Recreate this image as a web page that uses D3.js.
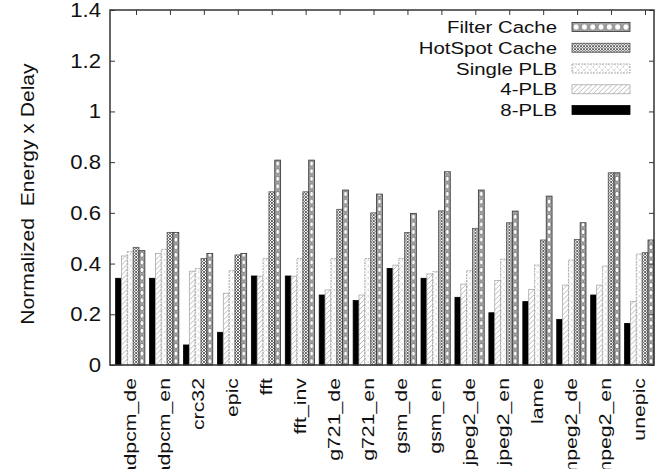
<!DOCTYPE html>
<html>
<head>
<meta charset="utf-8">
<script src="https://cdn.jsdelivr.net/npm/d3@7"></script>
<style>
body { margin: 0; background: #fff; }
svg text { font-family: "Liberation Sans", Arial, sans-serif; fill: #111; }
</style>
</head>
<body>
<svg id="chartSvg" width="667" height="469"></svg>
<script>
var benchmarks = ["adpcm_de", "adpcm_en", "crc32", "epic", "fft", "fft_inv", "g721_de", "g721_en",
    "gsm_de", "gsm_en", "jpeg2_de", "jpeg2_en", "lame", "mpeg2_de", "mpeg2_en", "unepic"];
var legendNames = ["Filter Cache", "HotSpot Cache", "Single PLB", "4-PLB", "8-PLB"];

var filterCache  = [0.451, 0.523, 0.44, 0.44, 0.808, 0.808, 0.69, 0.674, 0.598, 0.762, 0.69, 0.607, 0.666, 0.561, 0.758, 0.493];
var hotspotCache = [0.464, 0.523, 0.42, 0.434, 0.683, 0.683, 0.614, 0.60, 0.523, 0.608, 0.539, 0.561, 0.493, 0.495, 0.758, 0.443];
var singlePlb    = [0.447, 0.456, 0.38, 0.372, 0.42, 0.42, 0.42, 0.42, 0.42, 0.368, 0.372, 0.417, 0.394, 0.414, 0.39, 0.438];
var plb4         = [0.43, 0.44, 0.37, 0.283, 0.35, 0.35, 0.296, 0.276, 0.394, 0.359, 0.319, 0.333, 0.298, 0.315, 0.315, 0.25];
var plb8         = [0.342, 0.342, 0.079, 0.129, 0.351, 0.351, 0.276, 0.254, 0.381, 0.342, 0.267, 0.206, 0.25, 0.18, 0.276, 0.164];

var yTicks = [0, 0.2, 0.4, 0.6, 0.8, 1, 1.2, 1.4];
var yTickLabels = ["0", "0.2", "0.4", "0.6", "0.8", "1", "1.2", "1.4"];

var svg = d3.select("#chartSvg");
var plotL = 110, plotR = 654, plotT = 10, plotB = 365;

// category index -> pixel, tick i sits in the cluster
var x = d3.scaleLinear().domain([-0.766, 15.266]).range([plotL, plotR]);
var y = d3.scaleLinear().domain([0, 1.4]).range([plotB, plotT]);
var barW = 0.1724;      // one bar, in category units
var clusterOff = -0.6;  // left edge of cluster relative to tick
var barPx = x(barW) - x(0);

// ---- fill patterns ----
var defs = svg.append("defs");
function makePattern(id, w, h) {
    var p = defs.append("pattern").attr("id", id)
        .attr("patternUnits", "userSpaceOnUse")
        .attr("width", w).attr("height", h);
    p.append("rect").attr("width", w).attr("height", h).attr("fill", "#fff");
    return p;
}
function filterPattern(id, w, h) {
    var p = makePattern(id, w, h);
    p.append("rect").attr("width", w).attr("height", h).attr("fill", "#a4a4a4");
    p.append("ellipse").attr("cx", w / 2).attr("cy", h / 2).attr("rx", w / 2 - 0.9).attr("ry", h / 2 - 1.1)
        .attr("fill", "#fff").attr("stroke", "#555").attr("stroke-width", 0.7);
}
filterPattern("pFc", barPx, 7.6);
filterPattern("pFcLeg", 8.3, 9);

var pHs = makePattern("pHs", 3, 3);
pHs.append("path").attr("d", "M0,0L3,3M3,0L0,3").attr("stroke", "#555").attr("stroke-width", 0.9);

var pSp = makePattern("pSp", 6, 6);
pSp.append("path").attr("d", "M0,6L6,0M0,0L6,6").attr("stroke", "#aaa").attr("stroke-width", 0.7)
    .attr("stroke-dasharray", "1,1.2");

var p4 = makePattern("p4", 5, 5);
p4.append("path").attr("d", "M0,5L5,0M-1,1L1,-1M4,6L6,4").attr("stroke", "#aaa").attr("stroke-width", 0.8);

// drawing order inside a cluster: left to right
var series = [
    { name: "8-PLB", values: plb8, fill: "#000", legFill: "#000", stroke: "#000", dash: null },
    { name: "4-PLB", values: plb4, fill: "url(#p4)", legFill: "url(#p4)", stroke: "#aaa", dash: null },
    { name: "Single PLB", values: singlePlb, fill: "url(#pSp)", legFill: "url(#pSp)", stroke: "#999", dash: "2,1" },
    { name: "HotSpot Cache", values: hotspotCache, fill: "url(#pHs)", legFill: "url(#pHs)", stroke: "#555", dash: null },
    { name: "Filter Cache", values: filterCache, fill: "url(#pFc)", legFill: "url(#pFcLeg)", stroke: "#333", dash: null }
];

// ---- ticks (inward, gnuplot style) ----
var gAxisB = svg.append("g").attr("transform", "translate(0," + plotB + ")")
    .call(d3.axisBottom(x).tickValues(d3.range(benchmarks.length)).tickSize(-5).tickFormat(""));
gAxisB.select(".domain").remove();
gAxisB.selectAll("line").attr("stroke", "#333");

// ---- bars ----
series.forEach(function (s, si) {
    svg.append("g").selectAll("g").data(s.values).enter()
        .append("g")
        .attr("transform", function (d, i) {
            return "translate(" + x(i + clusterOff + si * barW) + "," + plotB + ")";
        })
        .append("rect")
        .attr("x", 0)
        .attr("y", function (d) { return y(d) - plotB; })
        .attr("width", barPx)
        .attr("height", function (d) { return plotB - y(d); })
        .attr("fill", s.fill)
        .attr("stroke", s.stroke)
        .attr("stroke-width", 0.8)
        .attr("stroke-dasharray", s.dash);
});

var gAxisT = svg.append("g").attr("transform", "translate(0," + plotT + ")")
    .call(d3.axisTop(x).tickValues(d3.range(benchmarks.length)).tickSize(-5).tickFormat(""));
gAxisT.select(".domain").remove();
gAxisT.selectAll("line").attr("stroke", "#333");

var gAxisL = svg.append("g").attr("transform", "translate(" + plotL + ",0)")
    .call(d3.axisLeft(y).tickValues(yTicks).tickSize(-5).tickPadding(9)
        .tickFormat(function (d, i) { return yTickLabels[i]; }));
gAxisL.select(".domain").remove();
gAxisL.selectAll("line").attr("stroke", "#333");
gAxisL.selectAll("text")
    .attr("x", 0)
    .attr("transform", "translate(-9,0) scale(1.08,1)")
    .style("font-size", "20.5px")
    .attr("fill", "#111");

var gAxisR = svg.append("g").attr("transform", "translate(" + plotR + ",0)")
    .call(d3.axisRight(y).tickValues(yTicks).tickSize(-5).tickFormat(""));
gAxisR.select(".domain").remove();
gAxisR.selectAll("line").attr("stroke", "#333");

// frame
svg.append("rect")
    .attr("x", plotL).attr("y", plotT)
    .attr("width", plotR - plotL).attr("height", plotB - plotT)
    .attr("fill", "none").attr("stroke", "#333").attr("stroke-width", 1.5);

// category labels, rotated, they run off the bottom like the original
svg.append("g").selectAll("text").data(benchmarks).enter()
    .append("text")
    .attr("transform", function (d, i) {
        return "translate(" + x(i) + ",378) rotate(-90) scale(1.33,1)";
    })
    .attr("text-anchor", "end")
    .style("font-size", "16px")
    .text(function (d) { return d; });

// y title
svg.append("text")
    .attr("transform", "translate(34,194) rotate(-90) scale(1.11,1)")
    .attr("text-anchor", "middle")
    .style("font-size", "19px")
    .style("white-space", "pre")
    .text("Normalized  Energy x Delay");

// ---- legend ----
var legRowY = d3.scaleLinear().domain([0, 4]).range([27, 110]);
var legSeries = legendNames.map(function (n) {
    return series.filter(function (s) { return s.name === n; })[0];
});
var leg = svg.append("g").selectAll("g").data(legSeries).enter()
    .append("g")
    .attr("transform", function (d, i) { return "translate(0," + legRowY(i) + ")"; });
leg.append("text")
    .attr("transform", "translate(557,6) scale(1.2,1)")
    .attr("text-anchor", "end")
    .style("font-size", "17px")
    .text(function (d) { return d.name; });
leg.append("g").attr("transform", "translate(572,-4.5)")
    .append("rect")
    .attr("width", 58).attr("height", 9)
    .attr("fill", function (d) { return d.legFill; })
    .attr("stroke", function (d) { return d.stroke; })
    .attr("stroke-width", 0.8)
    .attr("stroke-dasharray", function (d) { return d.dash; });
</script>
</body>
</html>
